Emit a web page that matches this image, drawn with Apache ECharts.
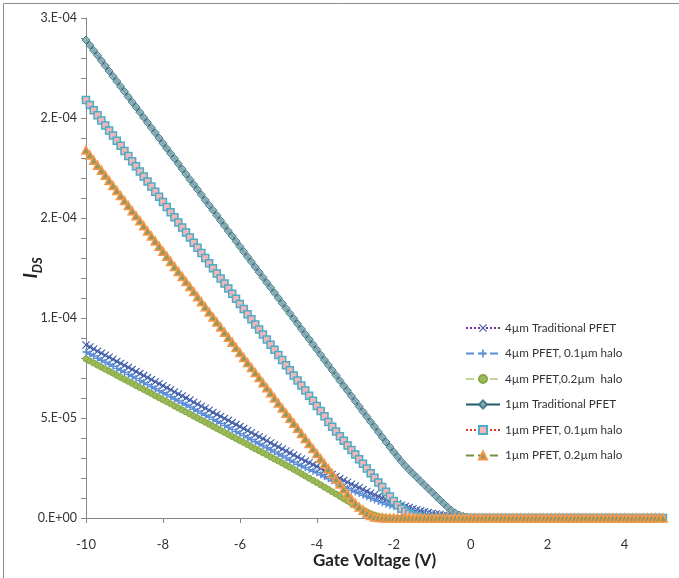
<!DOCTYPE html>
<html>
<head>
<meta charset="utf-8">
<script src="https://cdn.jsdelivr.net/npm/echarts@6/dist/echarts.min.js"></script>
<style>html,body{margin:0;padding:0;background:#fff}#c{width:679px;height:578px}</style>
</head>
<body>
<div id="c"></div>
<script>
// Gate voltage sweep (V)
const gateVoltage = [
-10,-9.9,-9.8,-9.7,-9.6,-9.5,-9.4,-9.3,-9.2,-9.1,
-9,-8.9,-8.8,-8.7,-8.6,-8.5,-8.4,-8.3,-8.2,-8.1,
-8,-7.9,-7.8,-7.7,-7.6,-7.5,-7.4,-7.3,-7.2,-7.1,
-7,-6.9,-6.8,-6.7,-6.6,-6.5,-6.4,-6.3,-6.2,-6.1,
-6,-5.9,-5.8,-5.7,-5.6,-5.5,-5.4,-5.3,-5.2,-5.1,
-5,-4.9,-4.8,-4.7,-4.6,-4.5,-4.4,-4.3,-4.2,-4.1,
-4,-3.9,-3.8,-3.7,-3.6,-3.5,-3.4,-3.3,-3.2,-3.1,
-3,-2.9,-2.8,-2.7,-2.6,-2.5,-2.4,-2.3,-2.2,-2.1,
-2,-1.9,-1.8,-1.7,-1.6,-1.5,-1.4,-1.3,-1.2,-1.1,
-1,-0.9,-0.8,-0.7,-0.6,-0.5,-0.4,-0.3,-0.2,-0.1,
0,0.1,0.2,0.3,0.4,0.5,0.6,0.7,0.8,0.9,
1,1.1,1.2,1.3,1.4,1.5,1.6,1.7,1.8,1.9,
2,2.1,2.2,2.3,2.4,2.5,2.6,2.7,2.8,2.9,
3,3.1,3.2,3.3,3.4,3.5,3.6,3.7,3.8,3.9,
4,4.1,4.2,4.3,4.4,4.5,4.6,4.7,4.8,4.9,
5];

// Drain currents in microamps
const trad4um = [
86.5,85.5,84.5,83.4,82.4,81.4,80.4,79.4,78.3,77.3,
76.3,75.3,74.3,73.2,72.2,71.2,70.2,69.2,68.1,67.1,
66.1,65.1,64.1,63.0,62.0,61.0,60.0,59.0,57.9,56.9,
55.9,54.9,53.9,52.8,51.8,50.8,49.8,48.8,47.7,46.7,
45.7,44.7,43.7,42.6,41.6,40.6,39.6,38.6,37.5,36.5,
35.5,34.5,33.5,32.5,31.5,30.5,29.5,28.5,27.6,26.7,
25.8,24.8,23.8,22.8,21.8,20.8,19.8,18.8,17.9,16.9,
16.0,15.1,14.2,13.3,12.4,11.6,10.8,10.0,9.2,8.5,
7.8,7.1,6.4,5.8,5.2,4.6,4.1,3.6,3.1,2.7,
2.3,2.0,1.7,1.4,1.1,0.9,0.7,0.5,0.4,0.3,
0.2,0.1,0,0,0,0,0,0,0,0,
0,0,0,0,0,0,0,0,0,0,
0,0,0,0,0,0,0,0,0,0,
0,0,0,0,0,0,0,0,0,0,
0,0,0,0,0,0,0,0,0,0,
0];
const halo01_4um = [
83.0,82.0,81.0,79.9,78.9,77.9,76.9,75.9,74.8,73.8,
72.8,71.8,70.8,69.7,68.7,67.7,66.7,65.7,64.6,63.6,
62.6,61.6,60.6,59.5,58.5,57.5,56.5,55.5,54.4,53.4,
52.4,51.4,50.4,49.3,48.3,47.3,46.3,45.3,44.2,43.2,
42.2,41.2,40.2,39.1,38.1,37.1,36.1,35.1,34.0,33.0,
32.0,31.0,30.0,28.9,27.9,26.9,26.0,25.1,24.2,23.4,
22.6,21.6,20.6,19.6,18.6,17.6,16.7,15.7,14.8,13.9,
13.0,12.2,11.4,10.6,9.8,9.0,8.3,7.6,6.9,6.2,
5.6,5.0,4.5,4.0,3.5,3.0,2.6,2.2,1.9,1.6,
1.3,1.1,0.9,0.7,0.5,0.4,0.3,0.2,0.1,0.1,
0.1,0,0,0,0,0,0,0,0,0,
0,0,0,0,0,0,0,0,0,0,
0,0,0,0,0,0,0,0,0,0,
0,0,0,0,0,0,0,0,0,0,
0,0,0,0,0,0,0,0,0,0,
0];
const halo02_4um = [
79.5,78.5,77.5,76.4,75.4,74.4,73.4,72.4,71.3,70.3,
69.3,68.3,67.3,66.2,65.2,64.2,63.2,62.2,61.1,60.1,
59.1,58.1,57.1,56.0,55.0,54.0,53.0,52.0,50.9,49.9,
48.9,47.9,46.9,45.8,44.8,43.8,42.8,41.8,40.7,39.7,
38.7,37.7,36.7,35.6,34.6,33.6,32.6,31.6,30.5,29.5,
28.5,27.5,26.4,25.4,24.3,23.2,22.1,21.0,19.9,18.8,
17.7,16.6,15.4,14.3,13.1,12.0,10.8,9.6,8.5,7.3,
6.2,5.1,4.1,3.1,2.2,1.5,0.9,0.5,0.2,0.1,
0,0,0,0,0,0,0,0,0,0,
0,0,0,0,0,0,0,0,0,0,
0,0,0,0,0,0,0,0,0,0,
0,0,0,0,0,0,0,0,0,0,
0,0,0,0,0,0,0,0,0,0,
0,0,0,0,0,0,0,0,0,0,
0,0,0,0,0,0,0,0,0,0,
0];
const trad1um = [
239.0,236.4,233.8,231.3,228.7,226.1,223.5,220.9,218.4,215.8,
213.2,210.6,208.0,205.5,202.9,200.3,197.7,195.1,192.6,190.0,
187.4,184.8,182.2,179.7,177.1,174.5,171.9,169.3,166.8,164.2,
161.6,159.0,156.4,153.9,151.3,148.7,146.1,143.5,141.0,138.4,
135.8,133.2,130.6,128.1,125.5,122.9,120.3,117.7,115.2,112.6,
110.0,107.4,104.8,102.3,99.7,97.1,94.5,91.9,89.4,86.8,
84.2,81.6,79.0,76.5,73.9,71.3,68.7,66.1,63.6,61.0,
58.4,55.8,53.2,50.7,48.1,45.6,43.0,40.5,38.0,35.5,
33.0,30.6,28.2,26.1,24.1,22.2,20.3,18.4,16.5,14.6,
12.8,10.9,9.0,7.2,5.4,3.8,2.5,1.5,0.9,0.5,
0.3,0.1,0,0,0,0,0,0,0,0,
0,0,0,0,0,0,0,0,0,0,
0,0,0,0,0,0,0,0,0,0,
0,0,0,0,0,0,0,0,0,0,
0,0,0,0,0,0,0,0,0,0,
0];
const halo01_1um = [
209.0,206.5,203.9,201.4,198.8,196.3,193.7,191.2,188.6,186.1,
183.5,181.0,178.4,175.9,173.3,170.8,168.2,165.7,163.1,160.6,
158.0,155.5,152.9,150.4,147.8,145.3,142.7,140.2,137.6,135.1,
132.5,130.0,127.4,124.9,122.3,119.8,117.2,114.7,112.1,109.6,
107.0,104.5,101.9,99.4,96.8,94.3,91.7,89.2,86.6,84.1,
81.5,79.0,76.4,73.9,71.3,68.8,66.2,63.7,61.1,58.6,
56.0,53.5,50.9,48.0,45.6,43.2,40.9,38.6,36.3,34.0,
31.7,29.4,27.1,24.8,22.4,20.1,17.8,15.5,13.1,10.8,
8.5,6.4,4.6,3.2,2.1,1.3,0.7,0.3,0.1,0,
0,0,0,0,0,0,0,0,0,0,
0,0,0,0,0,0,0,0,0,0,
0,0,0,0,0,0,0,0,0,0,
0,0,0,0,0,0,0,0,0,0,
0,0,0,0,0,0,0,0,0,0,
0,0,0,0,0,0,0,0,0,0,
0];
const halo02_1um = [
184.0,181.5,178.9,176.4,173.9,171.4,168.8,166.3,163.8,161.2,
158.7,156.2,153.6,151.1,148.6,146.1,143.5,141.0,138.5,135.9,
133.4,130.9,128.3,125.8,123.3,120.8,118.2,115.7,113.2,110.6,
108.1,105.6,103.0,100.5,98.0,95.5,92.9,90.4,87.9,85.3,
82.8,80.3,77.7,75.2,72.7,70.2,67.6,65.1,62.6,60.0,
57.5,55.0,52.4,49.9,47.4,44.9,42.3,39.8,37.3,34.7,
32.2,29.7,27.1,24.6,22.1,19.6,17.0,14.5,12.0,9.6,
7.4,5.5,3.9,2.5,1.3,0.5,0.2,0.1,0,0,
0,0,0,0,0,0,0,0,0,0,
0,0,0,0,0,0,0,0,0,0,
0,0,0,0,0,0,0,0,0,0,
0,0,0,0,0,0,0,0,0,0,
0,0,0,0,0,0,0,0,0,0,
0,0,0,0,0,0,0,0,0,0,
0,0,0,0,0,0,0,0,0,0,
0];

const seriesNames = [
  '4\u00b5m Traditional PFET',
  '4\u00b5m PFET, 0.1\u00b5m halo',
  '4\u00b5m PFET,0.2\u00b5m  halo',
  '1\u00b5m Traditional PFET',
  '1\u00b5m PFET, 0.1\u00b5m halo',
  '1\u00b5m PFET, 0.2\u00b5m halo'
];
const xAxisTitle = 'Gate Voltage (V)';

const FONT = 'Lato';
const toPairs = vals => vals.map((v, i) => [gateVoltage[i], v * 1e-6]);

function sciLabel(v) {
  if (Math.abs(v) < 1e-15) return '0.E+00';
  let e = Math.floor(Math.log10(Math.abs(v)) + 1e-9);
  let m = Math.round(v / Math.pow(10, e) + 1e-9);
  if (m >= 10) { m = 1; e += 1; }
  const s = e < 0 ? '-' : '+';
  const a = Math.abs(e);
  return m + '.E' + s + (a < 10 ? '0' + a : a);
}

const X_PATH = 'path://M1,0L5,4L9,0L10,1L6,5L10,9L9,10L5,6L1,10L0,9L4,5L0,1Z';
const PLUS_PATH = 'path://M4,0H6V4H10V6H6V10H4V6H0V4H4Z';

const chart = echarts.init(document.getElementById('c'), null, { renderer: 'canvas' });
chart.setOption({
  animation: false,
  backgroundColor: '#ffffff',
  textStyle: { fontFamily: FONT },
  graphic: [{
    type: 'rect', left: 1, top: 1, shape: { x: 0, y: 0, width: 676, height: 575 },
    style: { fill: 'none', stroke: '#8c8c8c', lineWidth: 1 }, silent: true, z: -1
  }],
  grid: { left: 86, right: 16, top: 18, bottom: 60, containLabel: false, outerBoundsMode: 'none' },
  legend: {
    orient: 'vertical', left: 465, top: 322, padding: 0,
    itemWidth: 34, itemHeight: 10, itemGap: 13.5,
    textStyle: { fontFamily: FONT, fontSize: 11.7, color: '#333' },
    data: seriesNames
  },
  xAxis: {
    type: 'value', min: -10, max: 5, interval: 2,
    name: xAxisTitle, nameLocation: 'middle', nameGap: 34, nameMoveOverlap: false,
    nameTextStyle: { fontFamily: FONT, fontSize: 17, fontWeight: 'bold', color: '#222' },
    axisLine: { onZero: false, lineStyle: { color: '#868686', width: 1 } },
    axisTick: { show: true, length: 5, lineStyle: { color: '#868686' } },
    axisLabel: { showMaxLabel: false, margin: 20, fontSize: 13, color: '#333', fontFamily: FONT },
    splitLine: { show: false }
  },
  yAxis: {
    type: 'value', min: 0, max: 2.5e-4, interval: 5e-5,
    name: '{i|I}{s|DS}', nameLocation: 'middle', nameGap: 46, nameMoveOverlap: false,
    nameTextStyle: {
      rich: {
        i: { fontFamily: FONT, fontSize: 19, fontWeight: 'bold', fontStyle: 'italic', color: '#222', lineHeight: 22, verticalAlign: 'bottom' },
        s: { fontFamily: FONT, fontSize: 13, fontWeight: 'bold', fontStyle: 'italic', color: '#222', lineHeight: 14, verticalAlign: 'bottom', padding: [0, 0, -4, 0] }
      }
    },
    axisLine: { show: true, onZero: false, lineStyle: { color: '#868686', width: 1 } },
    axisTick: { show: true, length: 5, lineStyle: { color: '#868686' } },
    minorTick: { show: true, splitNumber: 5, length: 5, lineStyle: { color: '#868686' } },
    axisLabel: { formatter: sciLabel, margin: 9, fontSize: 12.5, color: '#333', fontFamily: FONT },
    splitLine: { show: false }
  },
  series: [
    {
      name: seriesNames[0], type: 'line', data: toPairs(trad4um),
      symbol: X_PATH, symbolSize: 8,
      lineStyle: { color: '#7030A0', width: 1.5, type: 'dotted' },
      itemStyle: { color: '#3D5EA8', borderWidth: 0 }
    },
    {
      name: seriesNames[1], type: 'line', data: toPairs(halo01_4um),
      symbol: PLUS_PATH, symbolSize: 7,
      lineStyle: { color: '#5B8ED6', width: 2, type: 'dashed' },
      itemStyle: { color: '#5B8ED6', borderWidth: 0 }
    },
    {
      name: seriesNames[2], type: 'line', data: toPairs(halo02_4um),
      symbol: 'circle', symbolSize: 6,
      lineStyle: { color: '#C3D69B', width: 1.2, type: 'dashed' },
      itemStyle: { color: '#9BBB59', borderColor: '#86A845', borderWidth: 1 }
    },
    {
      name: seriesNames[3], type: 'line', data: toPairs(trad1um),
      symbol: 'diamond', symbolSize: 8,
      lineStyle: { color: '#1E5A69', width: 2.5, type: 'solid' },
      itemStyle: { color: '#8CAEB6', borderColor: '#3A7383', borderWidth: 1, opacity: 0.9 }
    },
    {
      name: seriesNames[4], type: 'line', data: toPairs(halo01_1um),
      symbol: 'rect', symbolSize: 7,
      lineStyle: { color: '#E0302F', width: 1.5, type: 'dotted' },
      itemStyle: { color: '#F4B6B6', borderColor: '#4BACC6', borderWidth: 1.5 }
    },
    {
      name: seriesNames[5], type: 'line', data: toPairs(halo02_1um),
      symbol: 'triangle', symbolSize: 8,
      lineStyle: { color: '#76923C', width: 2, type: 'dashed' },
      itemStyle: { color: '#8C9A62', borderColor: '#F79646', borderWidth: 1.5 }
    }
  ]
});
</script>
</body>
</html>
